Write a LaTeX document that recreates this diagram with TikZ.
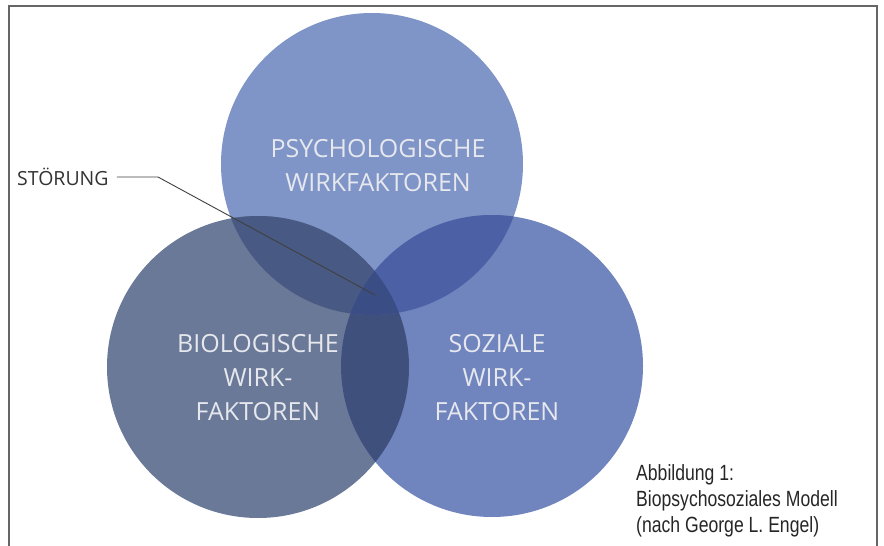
\documentclass[tikz,border=0pt]{standalone}
\usepackage{fontspec}
\setmainfont{Open Sans}
\newfontfamily\capfont[FakeStretch=0.8]{Liberation Sans}

\definecolor{psyblue}{HTML}{7F94C7}
\definecolor{bioblue}{HTML}{6B7998}
\definecolor{sozblue}{HTML}{7084BE}
\definecolor{psybio}{HTML}{485983}
\definecolor{psysoz}{HTML}{4C60A6}
\definecolor{biosoz}{HTML}{40507D}
\definecolor{allthree}{HTML}{3A4D85}
\definecolor{factortext}{HTML}{E6E8EE}

\begin{document}
\begin{tikzpicture}[x=1pt,y=-1pt,
                factor/.style={text=factortext,align=center,font=\fontsize{25}{34}\selectfont},
                ]
            \useasboundingbox (0,0) rectangle (884,546);
            \def\rad{151pt}

            \coordinate (P) at (372,164);
            \coordinate (B) at (258,367);
            \coordinate (S) at (492,366);

            \fill[psyblue] (P) circle (\rad);
            \fill[bioblue] (B) circle (\rad);
            \fill[sozblue] (S) circle (\rad);

            \begin{scope}
                \clip (B) circle (\rad);
                \fill[biosoz] (S) circle (\rad);
            \end{scope}
            \begin{scope}
                \clip (P) circle (\rad);
                \fill[psybio] (B) circle (\rad);
                \fill[psysoz] (S) circle (\rad);
                \clip (B) circle (\rad);
                \fill[allthree] (S) circle (\rad);
            \end{scope}

            \node[factor] (psytext) at (378,166) {PSYCHOLOGISCHE\\WIRKFAKTOREN};
            \node[factor] (biotext) at (258,378) {BIOLOGISCHE\\WIRK-\\FAKTOREN};
            \node[factor] (soztext) at (497,378) {SOZIALE\\WIRK-\\FAKTOREN};

            \node[anchor=west,inner sep=0pt,text=black!80,font=\fontsize{19.5}{20}\selectfont] (stoerung) at (17,177) {STÖRUNG};
            \coordinate (kern) at (375,295);
            \draw[black!75,line width=0.9pt,shorten <=8pt] (stoerung.east) -- (158,177) -- (kern);

            \node[anchor=north west,align=left,inner sep=0pt,text=black!85,font=\capfont\fontsize{22}{26}\selectfont] (caption) at (636,464) {Abbildung 1:\\Biopsychosoziales Modell\\(nach George L. Engel)};

            \draw[black!60,line width=2pt] (9,546) -- (9,6) -- (877,6) -- (877,546);

            \end{tikzpicture}
\end{document}
